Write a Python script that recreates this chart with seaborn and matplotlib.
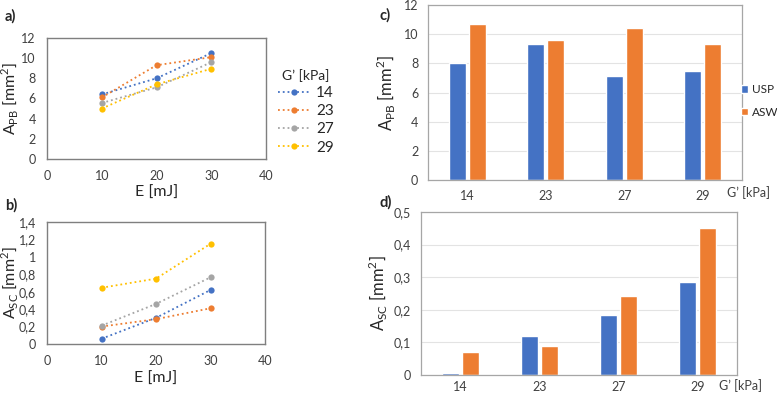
import matplotlib
matplotlib.use("Agg")
import matplotlib.pyplot as plt
from matplotlib.lines import Line2D
from matplotlib.ticker import FuncFormatter
import pandas as pd
import seaborn as sns

# data
energy = [10, 20, 30]
moduli = ["14", "23", "27", "29"]
apb_lines = {
    "14": [6.4, 8.0, 10.5],
    "23": [6.1, 9.3, 10.1],
    "27": [5.55, 7.1, 9.6],
    "29": [5.0, 7.4, 8.95],
}
asc_lines = {
    "14": [0.06, 0.30, 0.62],
    "23": [0.20, 0.285, 0.41],
    "27": [0.21, 0.46, 0.765],
    "29": [0.645, 0.75, 1.15],
}
methods = ["USP", "ASW"]
apb_usp = [8.0, 9.3, 7.1, 7.45]
apb_asw = [10.7, 9.6, 10.43, 9.3]
asc_usp = [0.007, 0.119, 0.185, 0.285]
asc_asw = [0.071, 0.089, 0.243, 0.45]

line_colors = ["#4472C4", "#ED7D31", "#A5A5A5", "#FFC000"]
bar_colors = ["#4472C4", "#ED7D31"]

sns.set_style("white")
plt.rcParams["font.family"] = ["Lato", "DejaVu Sans"]

W, H = 777, 395
fig = plt.figure(figsize=(W / 100, H / 100), dpi=100)


def px_axes(left, right, top, bottom):
    return fig.add_axes([left / W, 1 - bottom / H, (right - left) / W, (bottom - top) / H])


def comma(v, pos):
    return f"{v:g}".replace(".", ",")


def long_lines(d):
    rows = []
    for g in moduli:
        for e, v in zip(energy, d[g]):
            rows.append({"E": e, "val": v, "G": g})
    return pd.DataFrame(rows)


def long_bars(usp, asw):
    rows = []
    for g, u, a in zip(moduli, usp, asw):
        rows.append({"G": g, "val": u, "method": "USP"})
        rows.append({"G": g, "val": a, "method": "ASW"})
    return pd.DataFrame(rows)


def style_line_ax(ax, ylim, yticks, ylabel, ylab_x, xlab_y):
    ax.set_xlim(0, 40)
    ax.set_xticks([0, 10, 20, 30, 40])
    ax.set_ylim(*ylim)
    ax.set_yticks(yticks)
    ax.yaxis.set_major_formatter(FuncFormatter(comma))
    ax.tick_params(length=0, labelsize=9, pad=8, colors="#404040")
    ax.set_xlabel("E [mJ]", fontsize=11.5)
    ax.set_ylabel(ylabel, fontsize=11.5)
    ax.yaxis.set_label_coords(ylab_x, 0.5)
    ax.xaxis.set_label_coords(0.5, xlab_y)
    for s in ax.spines.values():
        s.set_color("#7f7f7f")
        s.set_linewidth(1.0)


def style_bar_ax(ax, ylim, yticks, ylabel, ylab_x, xpad):
    ax.set_ylim(*ylim)
    ax.set_yticks(yticks)
    ax.yaxis.set_major_formatter(FuncFormatter(comma))
    ax.set_xlim(-0.5, 3.5)
    ax.grid(axis="y", color="#e3e3e3", linewidth=0.8)
    ax.set_axisbelow(True)
    ax.tick_params(length=0, labelsize=9, pad=7, colors="#404040")
    ax.tick_params(axis="x", pad=xpad)
    ax.set_xlabel("")
    ax.set_ylabel(ylabel, fontsize=12)
    ax.yaxis.set_label_coords(ylab_x, 0.5)
    for s in ax.spines.values():
        s.set_color("#a6a6a6")
        s.set_linewidth(0.9)


line_kws = dict(linestyle=":", linewidth=1.3, marker="o", markersize=4.5,
                markeredgewidth=0)

# a)
ax_a = px_axes(47, 266, 38, 159)
sns.lineplot(data=long_lines(apb_lines), x="E", y="val", hue="G",
             hue_order=moduli, palette=line_colors, legend=False, ax=ax_a,
             **line_kws)
style_line_ax(ax_a, (0, 12), range(0, 13, 2),
              "A$_\\mathregular{PB}$ [mm$^\\mathregular{2}$]", -0.122, -0.223)
handles = [Line2D([], [], color=c, linestyle=":", linewidth=1.3, marker="o",
                  markersize=4.5, markeredgewidth=0) for c in line_colors]
leg = fig.legend(handles, moduli, title="G’ [kPa]", loc="upper left",
                 bbox_to_anchor=(270 / W, 1 - 61 / H), frameon=False,
                 fontsize=11, title_fontsize=10, handlelength=2.2,
                 handletextpad=0.3, labelspacing=0.28, borderpad=0)

# b)
ax_b = px_axes(47, 265, 222, 344)
sns.lineplot(data=long_lines(asc_lines), x="E", y="val", hue="G",
             hue_order=moduli, palette=line_colors, legend=False, ax=ax_b,
             **line_kws)
style_line_ax(ax_b, (0, 1.4), [0, 0.2, 0.4, 0.6, 0.8, 1.0, 1.2, 1.4],
              "A$_\\mathregular{SC}$ [mm$^\\mathregular{2}$]", -0.126, -0.23)

# c)
ax_c = px_axes(428, 742, 5, 180)
sns.barplot(data=long_bars(apb_usp, apb_asw), x="G", y="val", hue="method",
            order=moduli, hue_order=methods, palette=bar_colors, width=0.5,
            gap=0.13, saturation=1, ax=ax_c)
style_bar_ax(ax_c, (0, 12), range(0, 13, 2),
             "A$_\\mathregular{PB}$ [mm$^\\mathregular{2}$]", -0.096, 7)
sns.move_legend(ax_c, loc="center left", bbox_to_anchor=(741 / W, 1 - 101 / H),
                bbox_transform=fig.transFigure, frameon=False, title=None,
                fontsize=8.5, handlelength=0.6, handleheight=0.6,
                handletextpad=0.3, labelspacing=0.95, borderpad=0,
                borderaxespad=0)
fig.text(727 / W, 1 - 193 / H, "G’ [kPa]", fontsize=9, color="#404040",
         va="center", ha="left")

# d)
ax_d = px_axes(421, 737, 212, 375)
sns.barplot(data=long_bars(asc_usp, asc_asw), x="G", y="val", hue="method",
            order=moduli, hue_order=methods, palette=bar_colors, width=0.5,
            gap=0.13, saturation=1, legend=False, ax=ax_d)
style_bar_ax(ax_d, (0, 0.5), [0, 0.1, 0.2, 0.3, 0.4, 0.5],
             "A$_\\mathregular{SC}$ [mm$^\\mathregular{2}$]", -0.098, 4.5)
fig.text(719 / W, 1 - 386 / H, "G’ [kPa]", fontsize=9, color="#404040",
         va="center", ha="left")

# panel letters
for x, y, t in [(5, 16, "a)"), (5, 205, "b)"), (379, 15, "c)"), (379, 202, "d)")]:
    fig.text(x / W, 1 - y / H, t, fontsize=10.5, fontweight="bold", va="center")

fig.savefig("out.png", dpi=100)
